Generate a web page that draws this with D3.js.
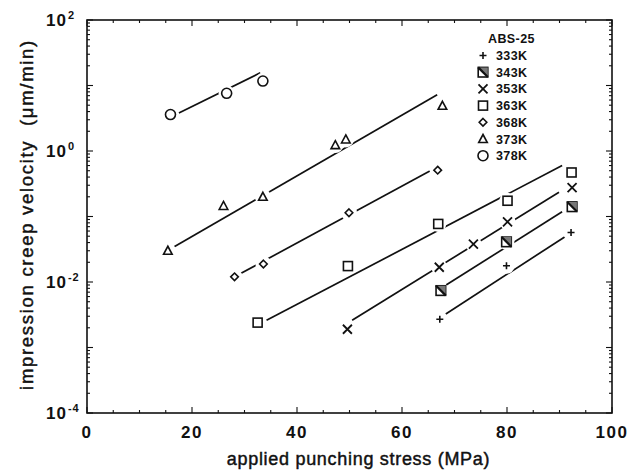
<!DOCTYPE html>
<html>
<head>
  <title>Impression creep velocity vs punching stress</title>
  <script src="https://d3js.org/d3.v7.min.js"></script>
  <style>
    body { margin: 0; background: #fff; }
    text { font-family: "Liberation Sans", Arial, sans-serif; fill: #111; }
  </style>
</head>
<body>
  <script>

// series values (stress in MPa, velocity in um/min)
const temps = ["333K", "343K", "353K", "363K", "368K", "373K", "378K"];
const shapes = ["plus", "hatch", "cross", "square", "diamond", "triangle", "circle"];

const stress333 = [67.2, 79.9, 92.2];
const vel333 = [0.0027, 0.0177, 0.057];
const stress343 = [67.4, 79.9, 92.4];
const vel343 = [0.0074, 0.041, 0.141];
const stress353 = [49.6, 67.1, 73.6, 80.1, 92.4];
const vel353 = [0.0019, 0.0168, 0.038, 0.083, 0.275];
const stress363 = [32.5, 49.7, 66.9, 80.1, 92.3];
const vel363 = [0.0024, 0.0175, 0.077, 0.174, 0.47];
const stress368 = [28.1, 33.6, 49.9, 66.8];
const vel368 = [0.012, 0.0188, 0.114, 0.51];
const stress373 = [15.4, 26.0, 33.5, 47.3, 49.3, 67.7];
const vel373 = [0.03, 0.145, 0.2, 1.23, 1.5, 4.9];
const stress378 = [15.9, 26.6, 33.5];
const vel378 = [3.6, 7.6, 11.7];

// fitted lines, start and end
const fitStress333 = [68.2, 91.2];
const fitVel333 = [0.0032, 0.05];
const fitStress343 = [68.4, 90.5];
const fitVel343 = [0.009, 0.118];
const fitStress353 = [50.5, 89.9];
const fitVel353 = [0.0026, 0.234];
const fitStress363 = [34.2, 90.5];
const fitVel363 = [0.0026, 0.6];
const fitStress368 = [28.1, 65.3];
const fitVel368 = [0.012, 0.495];
const fitStress373 = [16.2, 66.7];
const fitVel373 = [0.033, 7.2];
const fitStress378 = [17.5, 33.0];
const fitVel378 = [3.8, 15.6];

const xTicks = [0, 20, 40, 60, 80, 100];
const yTickExp = [2, 0, -2, -4];

const stressSets = [stress333, stress343, stress353, stress363, stress368, stress373, stress378];
const velSets = [vel333, vel343, vel353, vel363, vel368, vel373, vel378];
const fitStressSets = [fitStress333, fitStress343, fitStress353, fitStress363, fitStress368, fitStress373, fitStress378];
const fitVelSets = [fitVel333, fitVel343, fitVel353, fitVel363, fitVel368, fitVel373, fitVel378];

const width = 631, height = 475;
const margin = { top: 20, right: 19, bottom: 62, left: 87 };

const svg = d3.select("body").append("svg")
  .attr("width", width)
  .attr("height", height);

const x = d3.scaleLinear().domain([0, 100]).range([margin.left, width - margin.right]);
const y = d3.scaleLog().domain([1e-4, 1e2]).range([height - margin.bottom, margin.top]);

const ink = "#111";

// frame
svg.append("rect")
  .attr("x", x(0)).attr("y", y(1e2))
  .attr("width", x(100) - x(0)).attr("height", y(1e-4) - y(1e2))
  .attr("fill", "none").attr("stroke", ink).attr("stroke-width", 1.6);

// ticks, inward, on all four sides
const xMinor = d3.range(0, 101, 5);
const yMinor = [];
for (let e = -4; e < 2; e++) for (let k = 1; k < 10; k++) yMinor.push(k * Math.pow(10, e));
yMinor.push(100);

const tickG = svg.append("g").attr("stroke", ink).attr("stroke-width", 1.1);
xMinor.forEach(v => {
  const len = v % 20 === 0 ? 6 : 3;
  tickG.append("line").attr("x1", x(v)).attr("x2", x(v)).attr("y1", y(1e-4)).attr("y2", y(1e-4) - len);
  tickG.append("line").attr("x1", x(v)).attr("x2", x(v)).attr("y1", y(1e2)).attr("y2", y(1e2) + len);
});
yMinor.forEach(v => {
  const major = Math.abs(Math.log10(v) - Math.round(Math.log10(v))) < 1e-9;
  const len = major ? 6 : 3;
  tickG.append("line").attr("x1", x(0)).attr("x2", x(0) + len).attr("y1", y(v)).attr("y2", y(v));
  tickG.append("line").attr("x1", x(100)).attr("x2", x(100) - len).attr("y1", y(v)).attr("y2", y(v));
});

// tick labels
svg.append("g").selectAll("text")
  .data(xTicks)
  .enter().append("text")
  .attr("x", d => x(d))
  .attr("y", y(1e-4) + 25)
  .attr("text-anchor", "middle")
  .attr("font-size", 17)
  .attr("font-weight", "bold")
  .attr("letter-spacing", 1.5)
  .text(d => d);

const yLab = svg.append("g").selectAll("text")
  .data(yTickExp)
  .enter().append("text")
  .attr("x", x(0) - 41)
  .attr("y", d => y(Math.pow(10, d)) + 6)
  .attr("font-size", 17)
  .attr("font-weight", "bold")
  .attr("letter-spacing", 1);
yLab.append("tspan").text("10");
yLab.append("tspan")
  .attr("dy", -7)
  .attr("dx", 1)
  .attr("font-size", 11)
  .text(d => d < 0 ? "-" + Math.abs(d) : d);

// axis titles
svg.append("text")
  .attr("x", (x(0) + x(100)) / 2 + 9)
  .attr("y", 465)
  .attr("text-anchor", "middle")
  .attr("font-size", 18)
  .attr("letter-spacing", 0.7)
  .attr("stroke", ink)
  .attr("stroke-width", 0.45)
  .text("applied punching stress (MPa)");

svg.append("text")
  .attr("transform", `translate(33,${(y(1e2) + y(1e-4)) / 2 - 2}) rotate(-90)`)
  .attr("text-anchor", "middle")
  .attr("font-size", 18.5)
  .attr("letter-spacing", 1.7)
  .attr("stroke", ink)
  .attr("stroke-width", 0.45)
  .style("white-space", "pre")
  .text("impression creep velocity  (\u03bcm/min)");

// marker drawing
function marker(g, shape, cx, cy) {
  const m = g.append("g").attr("transform", `translate(${cx},${cy})`)
    .attr("fill", "#fff").attr("stroke", ink).attr("stroke-width", 1.6);
  if (shape === "plus") {
    m.append("path").attr("d", "M-3.5,0H3.5M0,-3.5V3.5");
  } else if (shape === "cross") {
    m.append("path").attr("d", "M-4.5,-4.5L4.5,4.5M-4.5,4.5L4.5,-4.5").attr("stroke-width", 1.8);
  } else if (shape === "square") {
    m.append("rect").attr("x", -4.5).attr("y", -4.5).attr("width", 9).attr("height", 9);
  } else if (shape === "hatch") {
    m.append("rect").attr("x", -4.8).attr("y", -4.8).attr("width", 9.6).attr("height", 9.6);
    m.append("path").attr("d", "M-4.8,-4.8L4.8,-4.8L4.8,4.8Z").attr("fill", "#777").attr("stroke", "none");
    m.append("path").attr("d", "M-4.8,-4.8L4.8,4.8").attr("stroke-width", 2.2);
  } else if (shape === "diamond") {
    m.append("path").attr("d", "M0,-3.8L3.8,0L0,3.8L-3.8,0Z");
  } else if (shape === "triangle") {
    m.append("path").attr("d", "M0,-4.5L4.3,3.5L-4.3,3.5Z");
  } else if (shape === "circle") {
    m.append("circle").attr("r", 5);
  }
}

// fitted lines
const line = d3.line().x(d => x(d[0])).y(d => y(d[1]));
const lineG = svg.append("g");
fitStressSets.forEach((s, i) => {
  lineG.append("path")
    .attr("d", line(d3.zip(s, fitVelSets[i])))
    .attr("fill", "none")
    .attr("stroke", ink)
    .attr("stroke-width", 1.7);
});

// data points with white gap around each
const ptG = svg.append("g");
stressSets.forEach((s, i) => {
  d3.zip(s, velSets[i]).forEach(p => {
    ptG.append("circle").attr("cx", x(p[0])).attr("cy", y(p[1])).attr("r", 8).attr("fill", "#fff");
  });
});
stressSets.forEach((s, i) => {
  d3.zip(s, velSets[i]).forEach(p => marker(ptG, shapes[i], x(p[0]), y(p[1])));
});

// legend
const leg = svg.append("g");
leg.append("text")
  .attr("x", 488).attr("y", 43)
  .attr("font-size", 12.5).attr("font-weight", "bold")
  .attr("letter-spacing", 0.4)
  .text("ABS-25");
temps.forEach((t, i) => {
  const cy = 55.5 + i * 16.7;
  marker(leg, shapes[i], 483, cy);
  leg.append("text")
    .attr("x", 496).attr("y", cy + 4.5)
    .attr("font-size", 12.5).attr("font-weight", "bold")
    .attr("letter-spacing", 0.4)
    .text(t);
});

  </script>
</body>
</html>
